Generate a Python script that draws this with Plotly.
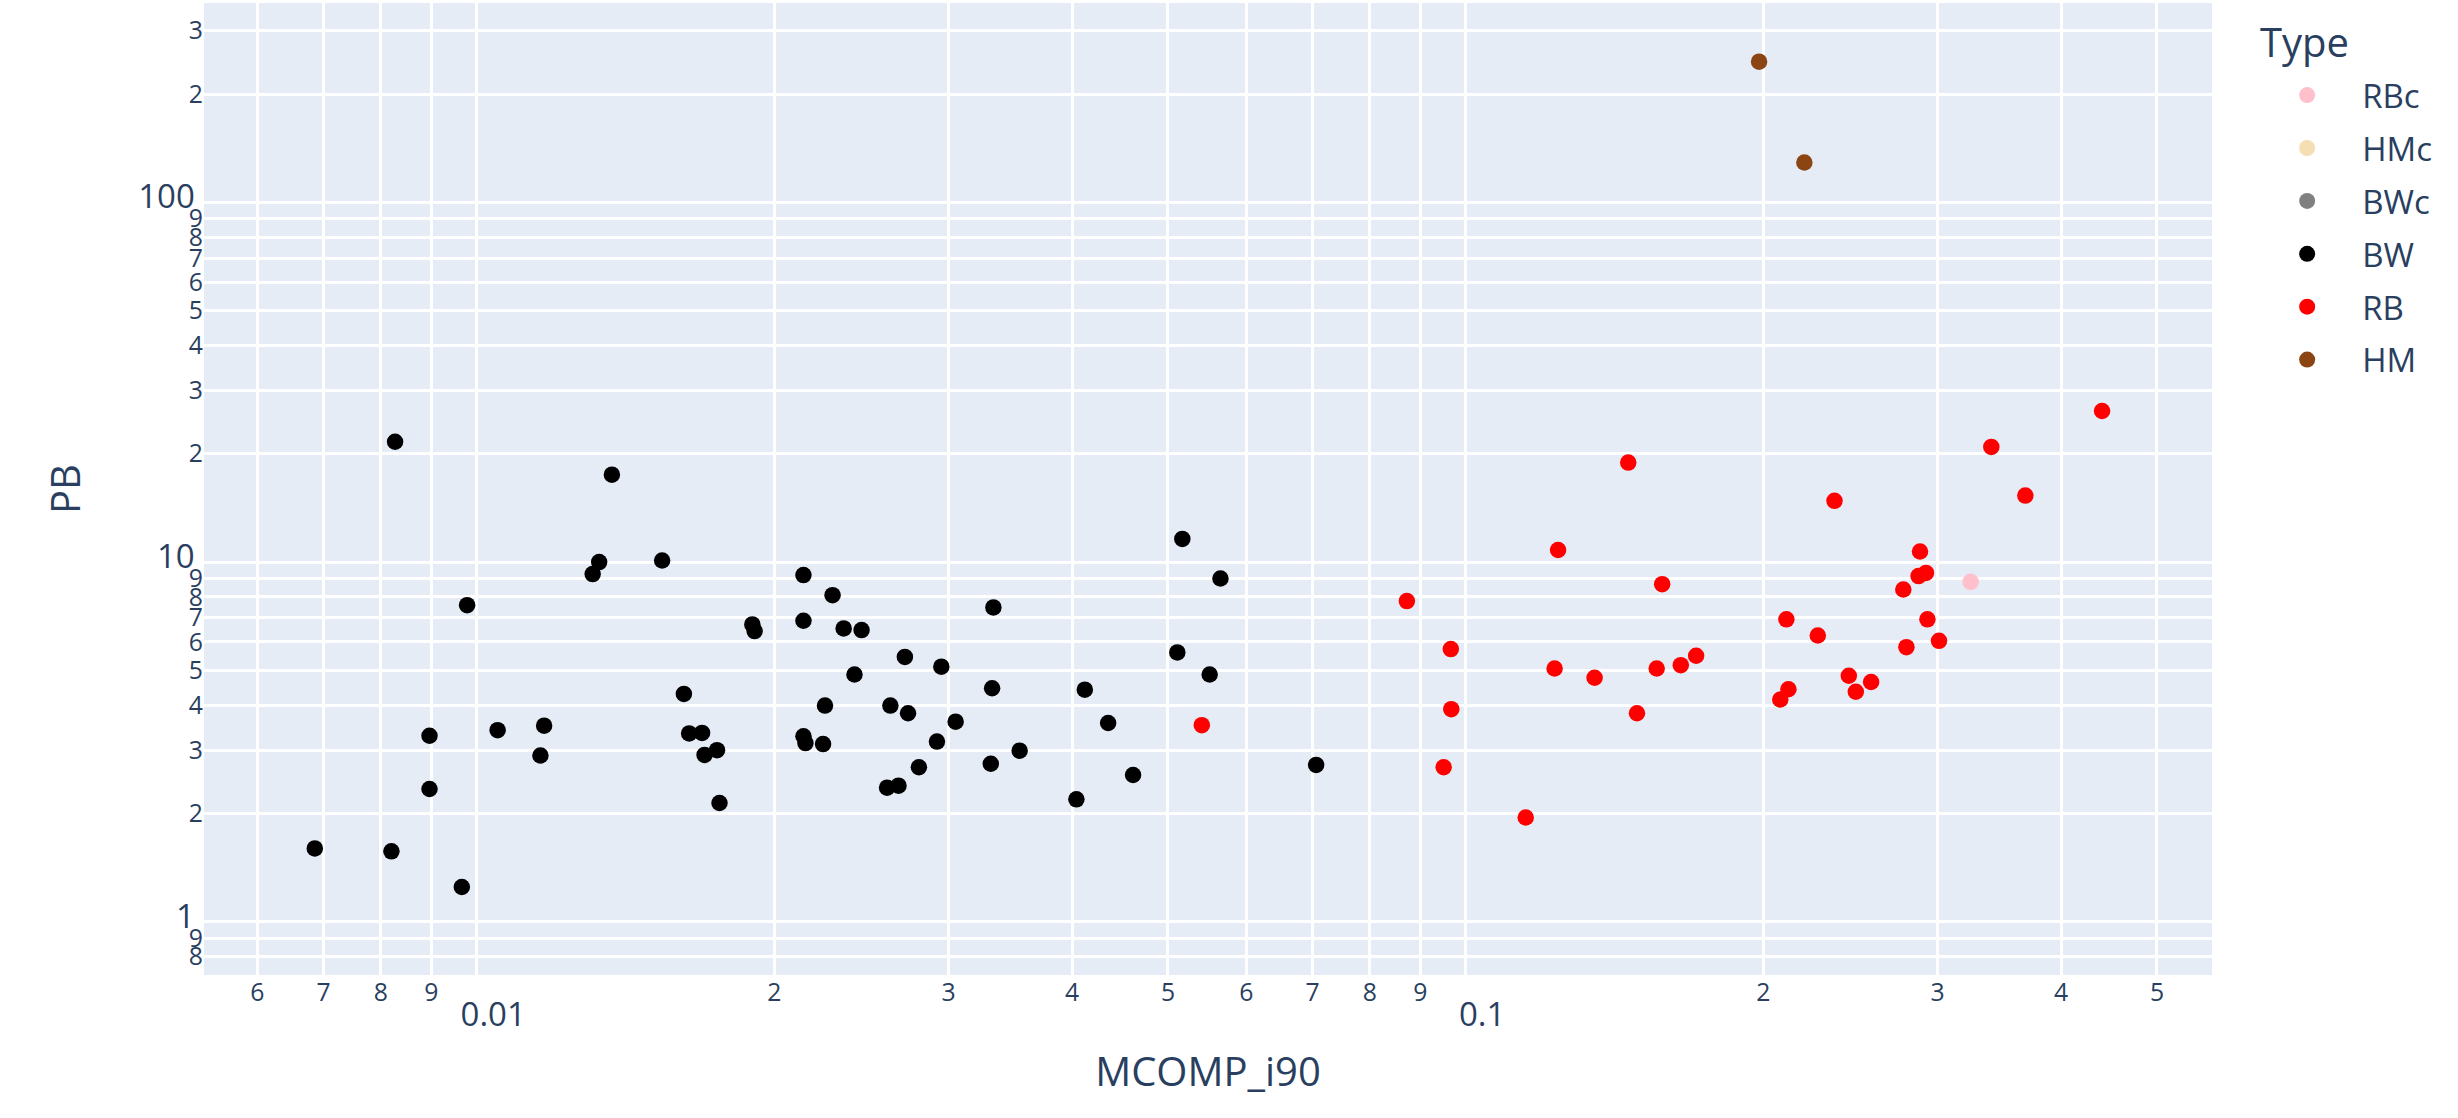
import plotly.graph_objects as go

# Legend categories in drawing order, with their marker colours
types = ["RBc", "HMc", "BWc", "BW", "RB", "HM"]
colors = ["#FFC0CB", "#F5DEB3", "#808080", "#000000", "#FF0000", "#8B4513"]

# MCOMP_i90 / PB values per category
rbc_x = [0.324]
rbc_y = [8.81]

hmc_x = []
hmc_y = []

bwc_x = []
bwc_y = []

bw_x = [0.00827, 0.0137, 0.0133, 0.0131, 0.0154, 0.0214, 0.00978, 0.019, 0.0191,
        0.0214, 0.0162, 0.00896, 0.0105, 0.0117, 0.0116, 0.0164, 0.0169, 0.0175,
        0.017, 0.0214, 0.0215, 0.00896, 0.0176, 0.00686, 0.0082, 0.00966,
        0.0229, 0.0235, 0.0245, 0.0333, 0.0517, 0.0565, 0.0271, 0.0295, 0.0241,
        0.0332, 0.0412, 0.0511, 0.0551, 0.0225, 0.0262, 0.0273, 0.0305, 0.0435,
        0.0224, 0.0292, 0.0354, 0.028, 0.0331, 0.0461, 0.026, 0.0267, 0.0404, 0.0706]
bw_y = [21.6, 17.5, 10.0, 9.26, 10.1, 9.2, 7.59, 6.71, 6.43,
        6.87, 4.30, 3.29, 3.41, 3.51, 2.90, 3.34, 3.35, 3.00,
        2.91, 3.28, 3.14, 2.34, 2.14, 1.60, 1.57, 1.25,
        8.09, 6.54, 6.47, 7.48, 11.6, 9.0, 5.45, 5.12, 4.87,
        4.46, 4.42, 5.61, 4.87, 3.99, 3.99, 3.80, 3.60, 3.57,
        3.12, 3.17, 2.99, 2.69, 2.75, 2.56, 2.36, 2.39, 2.19, 2.73]

rb_x = [0.0541, 0.146, 0.124, 0.158, 0.0872, 0.211, 0.227, 0.0966, 0.123, 0.135,
        0.156, 0.165, 0.171, 0.212, 0.208, 0.0967, 0.149, 0.095, 0.115, 0.44,
        0.34, 0.368, 0.236, 0.288, 0.292, 0.287, 0.277, 0.293, 0.301, 0.279,
        0.244, 0.257, 0.248]
rb_y = [3.52, 18.9, 10.8, 8.68, 7.79, 6.93, 6.25, 5.73, 5.06, 4.77,
        5.06, 5.17, 5.49, 4.43, 4.15, 3.90, 3.80, 2.69, 1.95, 26.3,
        20.9, 15.3, 14.8, 10.7, 9.33, 9.14, 8.39, 6.93, 6.04, 5.80,
        4.83, 4.64, 4.36]

hm_x = [0.198, 0.22]
hm_y = [246, 129]

series = {
    "RBc": (rbc_x, rbc_y),
    "HMc": (hmc_x, hmc_y),
    "BWc": (bwc_x, bwc_y),
    "BW": (bw_x, bw_y),
    "RB": (rb_x, rb_y),
    "HM": (hm_x, hm_y),
}

fig = go.Figure()
for name, color in zip(types, colors):
    xs, ys = series[name]
    if not xs:
        xs, ys = [None], [None]
    fig.add_trace(go.Scatter(
        x=xs, y=ys, mode="markers", name=name, legendgroup=name,
        marker=dict(color=color, size=16.5),
    ))

fig.update_layout(
    width=2458, height=1118,
    template="plotly",
    font=dict(family='"Open Sans", verdana, arial, sans-serif', size=33, color="#2a3f5f"),
    margin=dict(l=204, r=246, t=3, b=143, pad=0),
    legend=dict(itemwidth=100, tracegroupgap=7, x=1.02, xanchor="left",
                y=0.934, yanchor="top"),
    xaxis=dict(type="log", title=dict(text="MCOMP_i90", standoff=23), range=[-2.2757, -0.2454],
               dtick="D1", gridwidth=2.75),
    yaxis=dict(type="log", title=dict(text="PB", standoff=45), range=[-0.1478, 2.554],
               dtick="D1", gridwidth=2.75),
    annotations=[dict(text="Type", xref="paper", yref="paper", x=1.0229, y=0.96,
                      xanchor="left", yanchor="middle", showarrow=False,
                      font=dict(size=40))],
)

fig.write_html("out.html")
